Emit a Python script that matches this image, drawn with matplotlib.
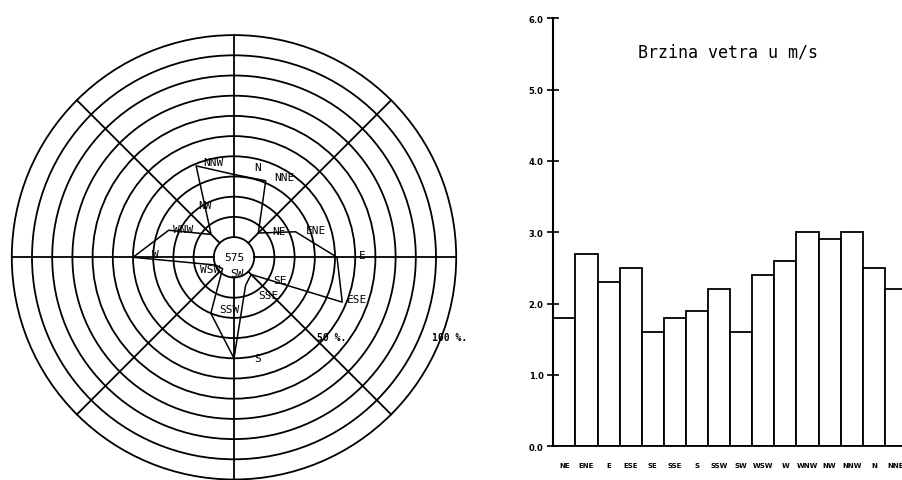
import matplotlib
matplotlib.use('Agg')
import matplotlib.pyplot as plt
from matplotlib.patches import Circle
import numpy as np

# ruza vetrova: ucestalost po pravcima (%), 10 % po krugu
directions = ['N', 'NNE', 'NE', 'ENE', 'E', 'ESE', 'SE', 'SSE',
              'S', 'SSW', 'SW', 'WSW', 'W', 'WNW', 'NW', 'NNW']
rose_pct = [41, 41, 17, 33, 51, 58, 12, 15, 50, 30, 8, 10, 50, 35, 16, 49]
calm_count = '575'
ring_pct = [10, 20, 30, 40, 50, 60, 70, 80, 90, 100, 110]
scale_labels = ['50 %.', '100 %.']

# srednja brzina vetra po pravcima (m/s)
bar_dirs = ['NE', 'ENE', 'E', 'ESE', 'SE', 'SSE', 'S', 'SSW',
            'SW', 'WSW', 'W', 'WNW', 'NW', 'NNW', 'N', 'NNE']
wind_speed = [1.8, 2.7, 2.3, 2.5, 1.6, 1.8, 1.9, 2.2,
              1.6, 2.4, 2.6, 3.0, 2.9, 3.0, 2.5, 2.2]
speed_ticks = [0, 1, 2, 3, 4, 5, 6]

# polozaj natpisa oko ruze (pikseli od centra)
label_off = [(24, 90), (50, 80), (45, 26), (82, 27), (128, 2), (123, -42),
             (46, -23), (34, -38), (24, -101), (-5, -52), (3, -16),
             (-24, -12), (-79, 3), (-51, 28), (-29, 52), (-21, 95)]

W, H = 902, 481
fig = plt.figure(figsize=(W / 100, H / 100), dpi=100)

# ---------- ruza ----------
px = 2.02      # piksela po procentu
cx, cy = 234, H - 258.3
ax = fig.add_axes([0, 0, 470 / W, 1])
ax.set_xlim(-cx / px, (470 - cx) / px)
ax.set_ylim(-cy / px, (H - cy) / px)
ax.axis('off')

for r in ring_pct:
    ax.add_patch(Circle((0, 0), r, fill=False, ec='black', lw=1.3))

r_in, r_out = ring_pct[0], ring_pct[-1]
for ang in np.deg2rad(np.arange(0, 360, 45)):
    ax.plot([r_in * np.sin(ang), r_out * np.sin(ang)],
            [r_in * np.cos(ang), r_out * np.cos(ang)], color='black', lw=1.3)

theta = np.deg2rad(np.arange(len(directions)) * 22.5)
vals = np.array(rose_pct + rose_pct[:1], dtype=float)
th = np.append(theta, theta[0])
ax.plot(vals * np.sin(th), vals * np.cos(th), color='black', lw=1.1)

mono = 'DejaVu Sans Mono'
for name, (dx, dy) in zip(directions, label_off):
    ax.text(dx / px, dy / px, name, ha='center', va='center',
            fontsize=8, family=mono)
ax.text(0, 0, calm_count, ha='center', va='center', fontsize=8, family=mono)
ax.text(98 / px, -80 / px, scale_labels[0], ha='center', va='center',
        fontsize=7, family=mono, fontweight='bold')
ax.text(216 / px, -80 / px, scale_labels[1], ha='center', va='center',
        fontsize=7, family=mono, fontweight='bold')

# ---------- brzina ----------
x0, x1 = 553.3, 907
y0, y1 = H - 447.3, H - 19.3
bx = fig.add_axes([x0 / W, y0 / H, (x1 - x0) / W, (y1 - y0) / H])
pos = np.arange(len(bar_dirs))
bx.bar(pos, wind_speed, width=1.0, color='white', edgecolor='black', lw=1.3)
bx.set_xlim(-0.5, len(bar_dirs) - 0.5)
bx.set_ylim(0, 6)
bx.set_yticks(speed_ticks)
bx.set_yticklabels([f'{v:.1f}' for v in speed_ticks], fontsize=6,
                   fontweight='bold')
bx.set_xticks(pos)
bx.set_xticklabels(bar_dirs, fontsize=5, fontweight='bold')
bx.tick_params(axis='y', direction='inout', length=8, width=1.2, pad=3)
bx.tick_params(axis='x', length=0, pad=11)
for s in ['top', 'right']:
    bx.spines[s].set_visible(False)
bx.spines['left'].set_linewidth(1.5)
bx.spines['bottom'].set_linewidth(1.3)
bx.patch.set_alpha(0)

fig.text(638 / W, 1 - 53 / H, 'Brzina vetra u m/s', ha='left', va='center',
         fontsize=12, family=mono)

fig.savefig('out.png', dpi=100)
